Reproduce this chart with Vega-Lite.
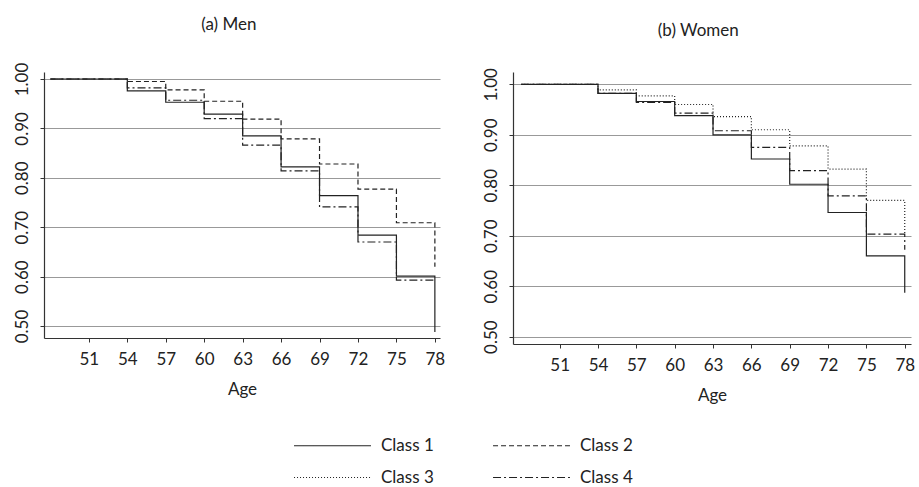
{
  "$schema": "https://vega.github.io/schema/vega-lite/v6.json",
  "padding": {"left": 13, "top": 16, "right": 4, "bottom": 4},
  "background": "white",
  "data": {"values": [
    {"panel": "Men", "cls": "Class 1", "age": 48, "s": 1.0},
    {"panel": "Men", "cls": "Class 1", "age": 54, "s": 0.976},
    {"panel": "Men", "cls": "Class 1", "age": 57, "s": 0.953},
    {"panel": "Men", "cls": "Class 1", "age": 60, "s": 0.929},
    {"panel": "Men", "cls": "Class 1", "age": 63, "s": 0.885},
    {"panel": "Men", "cls": "Class 1", "age": 66, "s": 0.822},
    {"panel": "Men", "cls": "Class 1", "age": 69, "s": 0.764},
    {"panel": "Men", "cls": "Class 1", "age": 72, "s": 0.684},
    {"panel": "Men", "cls": "Class 1", "age": 75, "s": 0.601},
    {"panel": "Men", "cls": "Class 1", "age": 78, "s": 0.488},
    {"panel": "Men", "cls": "Class 2", "age": 48, "s": 1.0},
    {"panel": "Men", "cls": "Class 2", "age": 54, "s": 0.995},
    {"panel": "Men", "cls": "Class 2", "age": 57, "s": 0.978},
    {"panel": "Men", "cls": "Class 2", "age": 60, "s": 0.955},
    {"panel": "Men", "cls": "Class 2", "age": 63, "s": 0.919},
    {"panel": "Men", "cls": "Class 2", "age": 66, "s": 0.879},
    {"panel": "Men", "cls": "Class 2", "age": 69, "s": 0.828},
    {"panel": "Men", "cls": "Class 2", "age": 72, "s": 0.777},
    {"panel": "Men", "cls": "Class 2", "age": 75, "s": 0.709},
    {"panel": "Men", "cls": "Class 2", "age": 78, "s": 0.62},
    {"panel": "Men", "cls": "Class 4", "age": 48, "s": 1.0},
    {"panel": "Men", "cls": "Class 4", "age": 54, "s": 0.982},
    {"panel": "Men", "cls": "Class 4", "age": 57, "s": 0.957},
    {"panel": "Men", "cls": "Class 4", "age": 60, "s": 0.92},
    {"panel": "Men", "cls": "Class 4", "age": 63, "s": 0.866},
    {"panel": "Men", "cls": "Class 4", "age": 66, "s": 0.814},
    {"panel": "Men", "cls": "Class 4", "age": 69, "s": 0.741},
    {"panel": "Men", "cls": "Class 4", "age": 72, "s": 0.67},
    {"panel": "Men", "cls": "Class 4", "age": 75, "s": 0.593},
    {"panel": "Men", "cls": "Class 4", "age": 78, "s": 0.593},
    {"panel": "Women", "cls": "Class 1", "age": 48, "s": 1.0},
    {"panel": "Women", "cls": "Class 1", "age": 54, "s": 0.982},
    {"panel": "Women", "cls": "Class 1", "age": 57, "s": 0.966},
    {"panel": "Women", "cls": "Class 1", "age": 60, "s": 0.938},
    {"panel": "Women", "cls": "Class 1", "age": 63, "s": 0.9},
    {"panel": "Women", "cls": "Class 1", "age": 66, "s": 0.852},
    {"panel": "Women", "cls": "Class 1", "age": 69, "s": 0.802},
    {"panel": "Women", "cls": "Class 1", "age": 72, "s": 0.746},
    {"panel": "Women", "cls": "Class 1", "age": 75, "s": 0.66},
    {"panel": "Women", "cls": "Class 1", "age": 78, "s": 0.587},
    {"panel": "Women", "cls": "Class 3", "age": 48, "s": 1.0},
    {"panel": "Women", "cls": "Class 3", "age": 54, "s": 0.989},
    {"panel": "Women", "cls": "Class 3", "age": 57, "s": 0.977},
    {"panel": "Women", "cls": "Class 3", "age": 60, "s": 0.96},
    {"panel": "Women", "cls": "Class 3", "age": 63, "s": 0.936},
    {"panel": "Women", "cls": "Class 3", "age": 66, "s": 0.91},
    {"panel": "Women", "cls": "Class 3", "age": 69, "s": 0.878},
    {"panel": "Women", "cls": "Class 3", "age": 72, "s": 0.832},
    {"panel": "Women", "cls": "Class 3", "age": 75, "s": 0.77},
    {"panel": "Women", "cls": "Class 3", "age": 78, "s": 0.703},
    {"panel": "Women", "cls": "Class 4", "age": 48, "s": 1.0},
    {"panel": "Women", "cls": "Class 4", "age": 54, "s": 0.982},
    {"panel": "Women", "cls": "Class 4", "age": 57, "s": 0.964},
    {"panel": "Women", "cls": "Class 4", "age": 60, "s": 0.943},
    {"panel": "Women", "cls": "Class 4", "age": 63, "s": 0.908},
    {"panel": "Women", "cls": "Class 4", "age": 66, "s": 0.875},
    {"panel": "Women", "cls": "Class 4", "age": 69, "s": 0.829},
    {"panel": "Women", "cls": "Class 4", "age": 72, "s": 0.779},
    {"panel": "Women", "cls": "Class 4", "age": 75, "s": 0.703},
    {"panel": "Women", "cls": "Class 4", "age": 78, "s": 0.672}
  ]},
  "spacing": 37,
  "hconcat": [
    {
      "title": {"text": "(a) Men", "offset": 28},
      "width": 396,
      "height": 266,
      "transform": [{"filter": "datum.panel === 'Men'"}],
      "mark": {"type": "line", "interpolate": "step-after", "color": "#222222", "strokeWidth": 1.2},
      "encoding": {
        "x": {"field": "age", "type": "quantitative",
              "scale": {"domain": [47.5, 78.4], "nice": false, "zero": false},
              "axis": {"values": [51, 54, 57, 60, 63, 66, 69, 72, 75, 78], "title": "Age", "grid": false}},
        "y": {"field": "s", "type": "quantitative",
              "scale": {"domain": [0.4757, 1.0142], "nice": false, "zero": false},
              "axis": {"values": [0.5, 0.6, 0.7, 0.8, 0.9, 1.0], "format": ".2f", "grid": true, "labelAngle": -90, "title": null}},
        "strokeDash": {"field": "cls", "type": "nominal",
              "scale": {"domain": ["Class 1", "Class 2", "Class 3", "Class 4"], "range": [[1, 0], [5, 3], [1, 2], [8, 3, 2, 3]]},
              "legend": {"orient": "none", "legendX": 278, "legendY": 363, "columns": 2, "direction": "horizontal", "title": null,
                         "symbolType": "M-4,0H4", "symbolSize": 370, "symbolStrokeWidth": 1.2, "symbolStrokeColor": "#222222", "symbolFillColor": "transparent",
                         "labelOffset": 38, "columnPadding": 56, "rowPadding": 13}}
      }
    },
    {
      "title": {"text": "(b) Women", "offset": 28},
      "width": 398,
      "height": 272,
      "transform": [{"filter": "datum.panel === 'Women'"}],
      "mark": {"type": "line", "interpolate": "step-after", "color": "#222222", "strokeWidth": 1.2},
      "encoding": {
        "x": {"field": "age", "type": "quantitative",
              "scale": {"domain": [47.35, 78.49], "nice": false, "zero": false},
              "axis": {"values": [51, 54, 57, 60, 63, 66, 69, 72, 75, 78], "title": "Age", "grid": false}},
        "y": {"field": "s", "type": "quantitative",
              "scale": {"domain": [0.4855, 1.0244], "nice": false, "zero": false},
              "axis": {"values": [0.5, 0.6, 0.7, 0.8, 0.9, 1.0], "format": ".2f", "grid": true, "labelAngle": -90, "title": null}},
        "strokeDash": {"field": "cls", "type": "nominal",
              "scale": {"domain": ["Class 1", "Class 2", "Class 3", "Class 4"], "range": [[1, 0], [5, 3], [1, 2], [8, 3, 2, 3]]}}
      }
    }
  ],
  "resolve": {"scale": {"x": "independent", "y": "independent"}},
  "config": {
    "font": "Lato",
    "view": {"stroke": null},
    "title": {"font": "Lato", "fontSize": 17, "fontWeight": "normal", "color": "#222222", "frame": "bounds", "anchor": "middle"},
    "axis": {
      "labelFont": "Lato", "labelFontSize": 17, "labelColor": "#222222",
      "titleFont": "Lato", "titleFontSize": 17, "titleFontWeight": "normal", "titleColor": "#222222",
      "domainColor": "#333333", "domainWidth": 1.2, "tickColor": "#333333", "tickSize": 4, "tickWidth": 1,
      "gridColor": "#999999", "gridWidth": 1, "labelPadding": 9, "titlePadding": 14
    },
    "legend": {"labelFont": "Lato", "labelFontSize": 17, "labelColor": "#222222"}
  }
}
